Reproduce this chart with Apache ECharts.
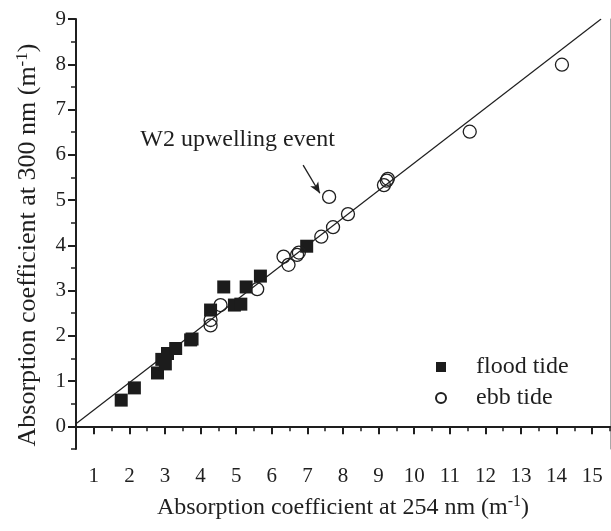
<!DOCTYPE html>
<html>
<head>
<meta charset="utf-8">
<script src="https://cdn.jsdelivr.net/npm/echarts@6/dist/echarts.min.js"></script>
<style>html,body{margin:0;padding:0;background:#fff;}#c{width:611px;height:531px;}</style>
</head>
<body>
<div id="c"></div>
<script>
// ---- data ----
var floodX = [1.77, 2.14, 2.79, 2.91, 3.01, 3.07, 3.30, 3.72, 3.76, 4.28, 4.65, 4.95, 5.13, 5.28, 5.68, 6.98];
var floodY = [0.58, 0.85, 1.18, 1.48, 1.38, 1.61, 1.72, 1.91, 1.93, 2.57, 3.08, 2.68, 2.70, 3.08, 3.32, 3.98];
var ebbX = [4.28, 4.28, 4.56, 5.59, 6.33, 6.47, 6.71, 6.76, 7.39, 7.72, 8.14, 7.61, 9.15, 9.23, 9.26, 11.56, 14.15];
var ebbY = [2.23, 2.35, 2.68, 3.03, 3.75, 3.57, 3.79, 3.84, 4.19, 4.40, 4.69, 5.07, 5.33, 5.43, 5.47, 6.51, 7.99];
var fitX = [0.5, 15.25];
var fitY = [0.06, 9.0];
var xMajor = [1,2,3,4,5,6,7,8,9,10,11,12,13,14,15];
var xMinor = [0.5,1.5,2.5,3.5,4.5,5.5,6.5,7.5,8.5,9.5,10.5,11.5,12.5,13.5,14.5,15.5];
var yMajor = [0,1,2,3,4,5,6,7,8,9];
var yMinor = [-0.5,0.5,1.5,2.5,3.5,4.5,5.5,6.5,7.5,8.5];
var annText = 'W2 upwelling event';
var annPos = [5.04, 6.33];
var arrowFrom = [6.88, 5.77];
var arrowTo = [7.35, 5.15];
var xName = 'Absorption coefficient at 254 nm (m{sup|-1})';
var yName = 'Absorption coefficient at 300 nm (m{sup|-1})';

function pairs(xs, ys){ return xs.map(function(v,i){ return [v, ys[i]]; }); }

var FONT = "'Liberation Serif','Times New Roman',serif";
var INK = '#1f1f1f';
function nameStyle(size, supSize, pad){
  return {
    fontFamily: FONT, fontSize: size, color: INK, padding: pad,
    rich: { sup: { fontFamily: FONT, fontSize: supSize, color: INK, verticalAlign: 'top', padding: [0,0,Math.round(size*0.45),0] } }
  };
}

var chart = echarts.init(document.getElementById('c'), null, {renderer:'canvas'});
var xBase = { type:'value', min:0.5, max:15.5, splitLine:{show:false} };
var yBase = { type:'value', min:-0.5, max:9, splitLine:{show:false} };

chart.setOption({
  animation:false,
  backgroundColor:'#fff',
  grid:{ left:76, top:19, right:1, bottom:82, containLabel:false },
  xAxis:[
    Object.assign({}, xBase, {
      position:'bottom',
      axisLine:{show:true, lineStyle:{color:INK, width:2}},
      axisTick:{show:true, inside:false, length:8, customValues:xMajor, lineStyle:{color:INK, width:2}},
      axisLabel:{show:true, customValues:xMajor, margin:17, fontFamily:FONT, fontSize:21, color:INK},
      name:xName, nameLocation:'middle', nameGap:45, nameTextStyle:nameStyle(24, 16, [0,0,0,0])
    }),
    Object.assign({}, xBase, {
      position:'bottom',
      axisLine:{show:false},
      axisTick:{show:true, inside:false, length:5, customValues:xMinor, lineStyle:{color:INK, width:1.5}},
      axisLabel:{show:false}
    }),
    Object.assign({}, xBase, {
      position:'top',
      axisLine:{show:true, lineStyle:{color:INK, width:1.5}},
      axisTick:{show:false}, axisLabel:{show:false}
    })
  ],
  yAxis:[
    Object.assign({}, yBase, {
      position:'left',
      axisLine:{show:true, lineStyle:{color:INK, width:2}},
      axisTick:{show:true, inside:false, length:8, customValues:yMajor, lineStyle:{color:INK, width:2}},
      axisLabel:{show:true, customValues:yMajor, margin:10, fontFamily:FONT, fontSize:21, color:INK},
      name:yName, nameLocation:'middle', nameGap:33, nameRotate:90, nameTextStyle:nameStyle(26, 17, [0,22,0,0])
    }),
    Object.assign({}, yBase, {
      position:'left',
      axisLine:{show:false},
      axisTick:{show:true, inside:false, length:5, customValues:yMinor, lineStyle:{color:INK, width:1.5}},
      axisLabel:{show:false}
    }),
    Object.assign({}, yBase, {
      position:'right',
      axisLine:{show:true, lineStyle:{color:'#a8a8a8', width:1}},
      axisTick:{show:false}, axisLabel:{show:false}
    })
  ],
  legend:{
    data:['flood tide','ebb tide'],
    orient:'vertical', left:435, top:355, padding:0,
    itemWidth:10, itemHeight:10, itemGap:7,
    textStyle:{fontFamily:FONT, fontSize:24, color:INK, lineHeight:24, padding:[0,0,0,25]}
  },
  series:[
    {
      name:'fit', type:'line', xAxisIndex:0, yAxisIndex:0,
      data:pairs(fitX, fitY), showSymbol:false, symbol:'none',
      lineStyle:{color:INK, width:1.2}, silent:true, z:1
    },
    {
      name:'flood tide', type:'scatter', xAxisIndex:0, yAxisIndex:0,
      data:pairs(floodX, floodY), symbol:'rect', symbolSize:13,
      itemStyle:{color:'#1c1c1c', opacity:1}, z:3
    },
    {
      name:'ebb tide', type:'scatter', xAxisIndex:0, yAxisIndex:0,
      data:pairs(ebbX, ebbY), symbol:'circle', symbolSize:13,
      itemStyle:{color:'rgba(255,255,255,0)', borderColor:INK, borderWidth:1.3, opacity:1}, z:4
    },
    {
      name:'annotation', type:'scatter', xAxisIndex:0, yAxisIndex:0,
      data:[annPos], symbolSize:1, silent:true, itemStyle:{opacity:0},
      label:{show:true, position:'inside', formatter:annText, fontFamily:FONT, fontSize:24, color:INK, textBorderWidth:0, opacity:1},
      markLine:{
        silent:true, symbol:['none','arrow'], symbolSize:[7,11],
        label:{show:false},
        lineStyle:{color:INK, width:1.3, type:'solid'},
        data:[[{coord:arrowFrom},{coord:arrowTo}]]
      }
    }
  ]
});
</script>
</body>
</html>
